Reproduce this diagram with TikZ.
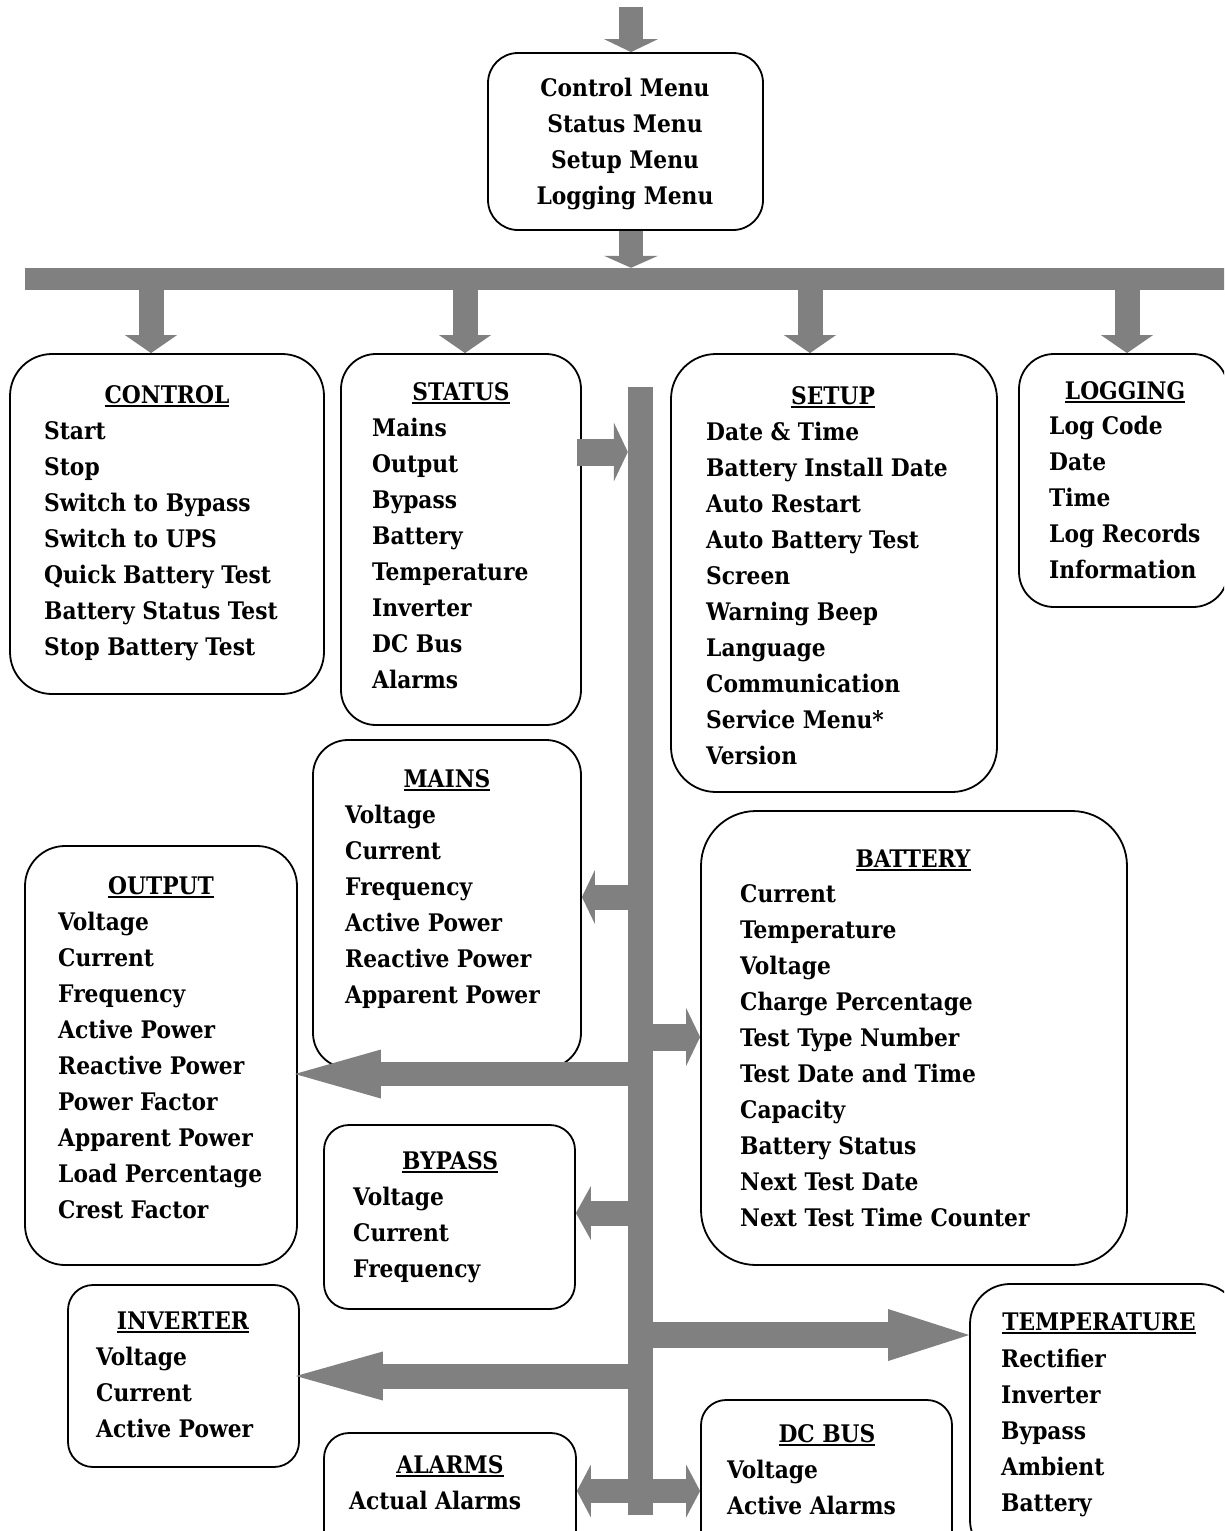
\documentclass[tikz,border=0pt]{standalone}
\usepackage{fontspec}
\setmainfont{DejaVu Serif Condensed}
\usetikzlibrary{arrows.meta,calc}
\definecolor{arrowgray}{RGB}{128,128,128}
\tikzset{
  box/.style={draw=black, line width=1.8pt, inner sep=0pt, fill=none},
  lbl/.style={inner sep=0pt, font=\fontsize{24.2}{36}\selectfont\bfseries, anchor=base west},
  hdr/.style={inner sep=0pt, font=\fontsize{24.2}{36}\selectfont\bfseries, anchor=base},
  slab/.style={fill=arrowgray, inner sep=0pt, draw=none},
  fatarr/.style n args={3}{draw=arrowgray, line width=#1pt,
     -{Triangle[length=#3pt,width=#2pt,line width=0pt,fill=arrowgray]}},
}
\newcommand{\ulhead}[1]{\leavevmode\vtop{\hbox{#1}\kern1.6pt\hrule height 2pt}}
\newcommand{\mkbox}[6]{%
  \node[box, rounded corners=#6pt, minimum width={(#4-#2)*1pt}, minimum height={(#5-#3)*1pt}]
    (#1) at ({(#2+#4)/2},{(#3+#5)/2}) {};}
\newcommand{\mkitems}[5]{% name, x, first baseline, list
  \foreach \t [count=\i from 0] in {#4} {
    \node[lbl] (#1-\i) at (#2,{#3+36*\i}) {\t};
  }}
\begin{document}
\begin{tikzpicture}[x=1pt,y=-1pt]
\useasboundingbox (0,0) rectangle (1224,1531);
\clip (0,0) rectangle (1224,1531);
% bars
\node[slab, minimum width=1205pt, minimum height=22pt] (bar) at (627.5,279) {};
\node[slab, minimum width=25pt, minimum height=1128pt] (bus) at (640.5,951) {};
% boxes
\mkbox{top}{488}{53}{763}{230}{30}
\mkbox{control}{10}{354}{324}{694}{42}
\mkbox{status}{341}{354}{581}{725}{35}
\mkbox{setup}{671}{354}{997}{792}{45}
\mkbox{logging}{1019}{354}{1228}{607}{35}
\mkbox{mains}{313}{740}{581}{1068}{35}
\mkbox{output}{25}{846}{297}{1265}{40}
\mkbox{battery}{701}{811}{1127}{1265}{55}
\mkbox{bypass}{324}{1125}{575}{1309}{25}
\mkbox{inverter}{68}{1285}{299}{1467}{25}
\mkbox{temperature}{970}{1284}{1240}{1560}{40}
\mkbox{dcbus}{701}{1400}{952}{1560}{25}
\mkbox{alarms}{324}{1433}{576}{1560}{25}
% top box text
\node[hdr] (t1) at (625,96) {Control Menu};
\node[hdr] (t2) at (625,132) {Status Menu};
\node[hdr] (t3) at (625,168) {Setup Menu};
\node[hdr] (t4) at (625,204) {Logging Menu};
% headers
\node[hdr] (h-control) at (167,403) {\ulhead{CONTROL}};
\node[hdr] (h-status) at (461,400) {\ulhead{STATUS}};
\node[hdr] (h-setup) at (833,404) {\ulhead{SETUP}};
\node[hdr] (h-logging) at (1125,399) {\ulhead{LOGGING}};
\node[hdr] (h-mains) at (447,787) {\ulhead{MAINS}};
\node[hdr] (h-output) at (161,894) {\ulhead{OUTPUT}};
\node[hdr] (h-battery) at (913,867) {\ulhead{BATTERY}};
\node[hdr] (h-bypass) at (450,1169) {\ulhead{BYPASS}};
\node[hdr] (h-inverter) at (183,1329) {\ulhead{INVERTER}};
\node[hdr] (h-temperature) at (1099,1330) {\ulhead{TEMPERATURE}};
\node[hdr] (h-alarms) at (450,1473) {\ulhead{ALARMS}};
\node[hdr] (h-dcbus) at (827,1442) {\ulhead{DC BUS}};
% items
\mkitems{ci}{44}{439}{Start,Stop,Switch to Bypass,Switch to UPS,Quick Battery Test,Battery Status Test,Stop Battery Test}{}
\mkitems{si}{372}{436}{Mains,Output,Bypass,Battery,Temperature,Inverter,DC Bus,Alarms}{}
\mkitems{ui}{706}{440}{Date \& Time,Battery Install Date,Auto Restart,Auto Battery Test,Screen,Warning Beep,Language,Communication,Service Menu*,Version}{}
\mkitems{li}{1049}{434}{Log Code,Date,Time,Log Records,Information}{}
\mkitems{mi}{345}{823}{Voltage,Current,Frequency,Active Power,Reactive Power,Apparent Power}{}
\mkitems{oi}{58}{930}{Voltage,Current,Frequency,Active Power,Reactive Power,Power Factor,Apparent Power,Load Percentage,Crest Factor}{}
\mkitems{bi}{740}{902}{Current,Temperature,Voltage,Charge Percentage,Test Type Number,Test Date and Time,Capacity,Battery Status,Next Test Date,Next Test Time Counter}{}
\mkitems{pi}{353}{1205}{Voltage,Current,Frequency}{}
\mkitems{ii}{96}{1365}{Voltage,Current,Active Power}{}
\mkitems{ti}{1001}{1367}{Rectifier,Inverter,Bypass,Ambient,Battery}{}
\mkitems{ai}{349}{1509}{Actual Alarms}{}
\mkitems{di}{727}{1478}{Voltage,Active Alarms}{}
% arrows
\coordinate (in) at (631,7);
\draw[fatarr={24}{54}{13}] (in) -- (in |- top.north);
\draw[fatarr={24}{54}{12}] (in |- top.south) -- (in |- bar.north);
\draw[fatarr={25}{52}{18}] (bar.south -| 151,0) -- (control.north -| 151,0);
\draw[fatarr={25}{52}{18}] (bar.south -| 465,0) -- (status.north -| 465,0);
\draw[fatarr={25}{52}{18}] (bar.south -| 810,0) -- (setup.north -| 810,0);
\draw[fatarr={25}{52}{18}] (bar.south -| 1127,0) -- (logging.north -| 1127,0);
\draw[fatarr={27}{59}{14}] (577,452) -- (bus.west |- 0,452);
\draw[fatarr={25}{54}{13}] (bus.west |- 0,897) -- (mains.east |- 0,897);
\draw[fatarr={27}{58}{14}] (bus.east |- 0,1037) -- (battery.west |- 0,1037);
\draw[fatarr={24}{49}{86}] (bus.west |- 0,1074) -- ([xshift=-3pt]output.east |- 0,1074);
\draw[fatarr={25}{54}{15}] (bus.west |- 0,1213) -- (bypass.east |- 0,1213);
\draw[fatarr={26}{52}{81}] (bus.east |- 0,1335) -- (temperature.west |- 0,1335);
\draw[fatarr={25}{49}{87}] (bus.west |- 0,1376) -- ([xshift=-4pt]inverter.east |- 0,1376);
\draw[fatarr={24}{53}{14}] (bus.west |- 0,1491) -- (alarms.east |- 0,1491);
\draw[fatarr={24}{53}{14}] (bus.east |- 0,1491) -- (dcbus.west |- 0,1491);
\end{tikzpicture}
\end{document}
